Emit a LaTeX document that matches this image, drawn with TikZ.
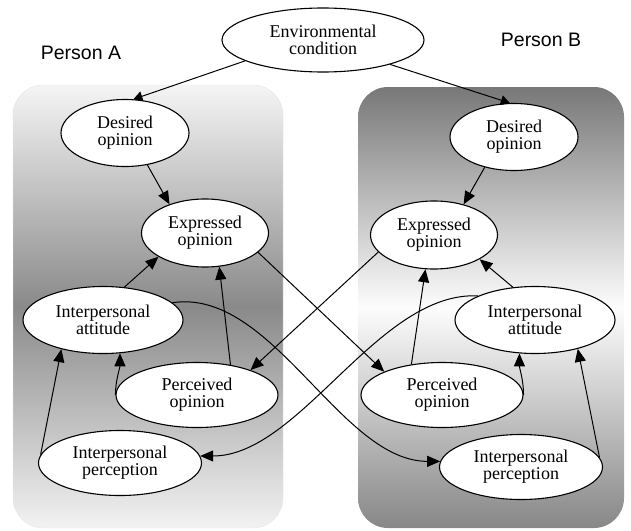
\documentclass[tikz,border=0pt]{standalone}
\usepackage{fontspec}
\setmainfont{Liberation Serif}
\newfontfamily\labelfont{Liberation Sans}
\usetikzlibrary{shapes.geometric,arrows.meta}

\begin{document}
\begin{tikzpicture}[x=1pt,y=-1pt,
  opinion/.style={draw, ellipse, fill=white, line width=1.1pt, inner sep=0pt, align=center, font=\fontsize{18}{17}\selectfont},
  person/.style={font=\labelfont\fontsize{19.5}{22}\selectfont},
  link/.style={line width=1pt, -{Triangle[length=13pt,width=11pt]}},
  envlink/.style={line width=1pt, -{Triangle[length=9pt,width=10pt]}}]
\useasboundingbox (0,0) rectangle (631,530);

% the two persons
\shade[rounded corners=30pt, top color=black!4, bottom color=black!5, middle color=black!46] (13,85) rectangle (283,528);
\draw[black!10, rounded corners=30pt] (13,85) rectangle (283,528);
\shade[rounded corners=30pt, top color=black!53, bottom color=black!47, middle color=black!1] (358,87) rectangle (624,528);
\node[person] (persA) at (81,53) {Person A};
\node[person] (persB) at (541,40) {Person B};

\node[opinion, minimum width=202pt, minimum height=64pt] (env) at (323,40) {Environmental\\condition};

\node[opinion, minimum width=128pt, minimum height=67pt] (desA) at (125,133) {Desired\\opinion};
\node[opinion, minimum width=127pt, minimum height=68pt] (expA) at (205,233) {Expressed\\opinion};
\node[opinion, minimum width=160pt, minimum height=67pt] (attA) at (103,320) {Interpersonal\\attitude};
\node[opinion, minimum width=162pt, minimum height=65pt] (perA) at (197,395) {Perceived\\opinion};
\node[opinion, minimum width=163pt, minimum height=65pt] (ptnA) at (120,463) {Interpersonal\\perception};

\node[opinion, minimum width=128pt, minimum height=67pt] (desB) at (514,137) {Desired\\opinion};
\node[opinion, minimum width=127pt, minimum height=68pt] (expB) at (434,235) {Expressed\\opinion};
\node[opinion, minimum width=160pt, minimum height=67pt] (attB) at (535,320) {Interpersonal\\attitude};
\node[opinion, minimum width=162pt, minimum height=65pt] (perB) at (442,395) {Perceived\\opinion};
\node[opinion, minimum width=163pt, minimum height=65pt] (ptnB) at (521,467) {Interpersonal\\perception};

\draw[envlink] (env.195) -- (desA.76);
\draw[envlink] (env.340) -- (desB.97);

% inside person A
\draw[link] (desA.305) -- (expA.141);
\draw[link] (attA.57) -- (expA.207);
\draw[link] (perA.42) -- (expA.293);
\draw[link] (perA.west) .. controls +(0,-15) and +(0,15) .. (attA.297);
\draw[link] (ptnA.174) -- (attA.215);

% inside person B
\draw[link] (desB.226) -- (expB.46);
\draw[link] (perB.135) -- (expB.256);
\draw[link] (attB.124) -- (expB.332);
\draw[link] (perB.east) .. controls +(0,-15) and +(0,15) .. (attB.245);
\draw[link] (ptnB.7) -- (attB.326);

% between them
\draw[link] (expA.340) -- (perB.158);
\draw[link] (expB.197) -- (perA.25);
\draw[link] (attA.14) .. controls +(100,-15) and +(-100,0) .. (ptnB.176);
\draw[link] (attB.157) .. controls +(-100,-5) and +(100,0) .. (ptnA.5);
\end{tikzpicture}
\end{document}
